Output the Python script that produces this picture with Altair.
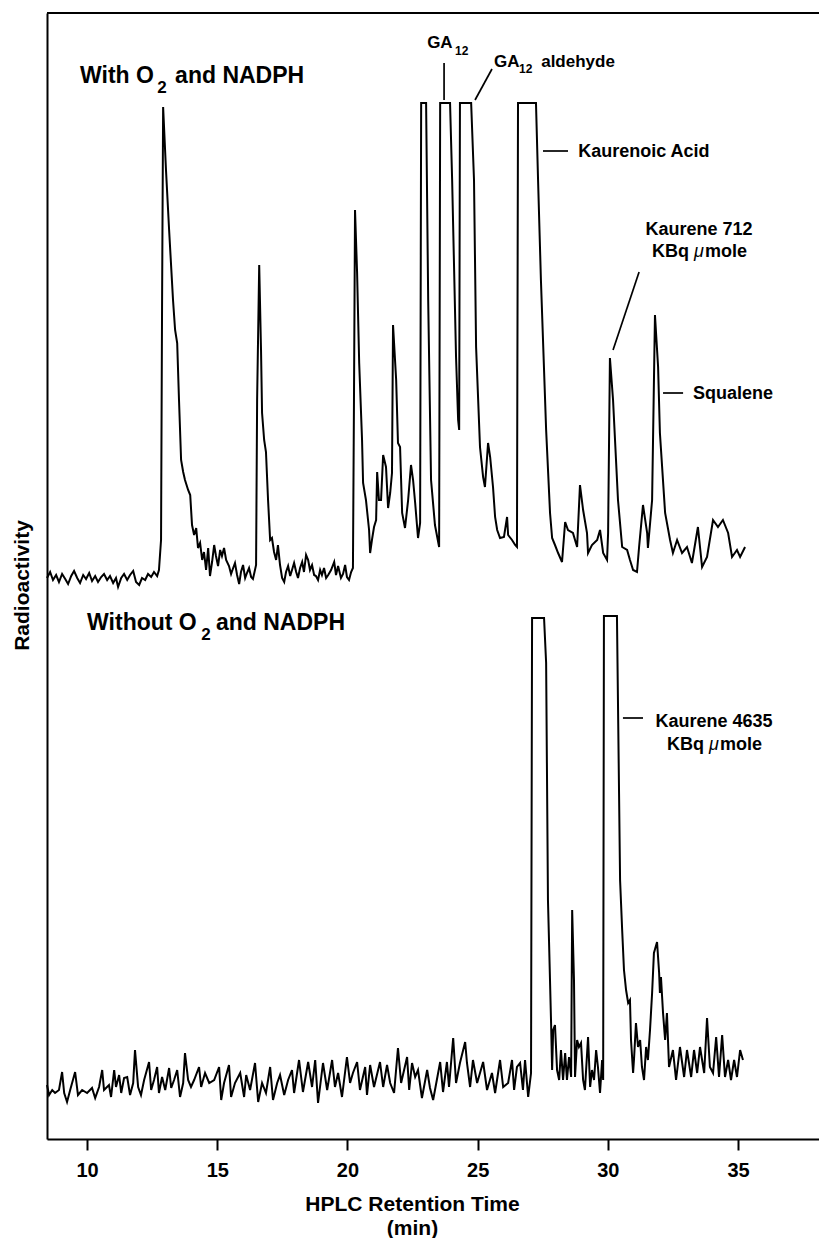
import altair as alt
import pandas as pd

# ---- Trace with O2 and NADPH (retention time, min ; radioactivity, arbitrary units) ----
t_with = [8.46,8.58,8.69,8.81,8.92,9.04,9.16,9.27,9.39,9.50,9.62,9.73,9.85,9.96,10.08,10.19,10.31,10.42,10.54,10.65,
          10.77,10.88,11.00,11.11,11.19,11.31,11.42,11.54,11.65,11.77,11.88,12.00,12.11,12.23,12.34,12.46,12.57,12.69,12.76,12.84,
          12.88,12.92,13.03,13.15,13.30,13.38,13.46,13.53,13.61,13.69,13.76,13.88,13.96,14.03,14.11,14.19,14.26,14.34,14.42,14.49,
          14.57,14.65,14.72,14.80,14.88,14.95,15.03,15.11,15.18,15.26,15.34,15.45,15.53,15.61,15.68,15.76,15.84,15.91,15.99,16.07,
          16.14,16.22,16.30,16.37,16.49,16.53,16.61,16.68,16.72,16.80,16.87,16.95,17.03,17.10,17.18,17.26,17.33,17.41,17.49,17.57,
          17.64,17.72,17.80,17.87,17.95,18.03,18.10,18.18,18.26,18.33,18.41,18.49,18.56,18.64,18.72,18.79,18.87,18.95,19.02,19.10,
          19.18,19.26,19.37,19.49,19.56,19.64,19.75,19.83,19.91,19.98,20.06,20.14,20.21,20.25,20.29,20.37,20.45,20.56,20.60,20.71,
          20.83,20.87,20.94,21.02,21.10,21.14,21.21,21.29,21.37,21.48,21.56,21.64,21.71,21.75,21.87,21.94,22.02,22.10,22.21,22.33,
          22.44,22.52,22.60,22.71,22.79,22.83,23.02,23.10,23.21,23.36,23.52,23.56,23.94,24.02,24.17,24.25,24.29,24.32,24.75,24.86,
          24.94,25.09,25.21,25.28,25.40,25.48,25.59,25.67,25.75,25.86,26.01,26.13,26.17,26.32,26.44,26.51,26.55,27.24,27.32,27.43,
          27.63,27.78,27.86,27.97,28.09,28.24,28.36,28.47,28.66,28.82,28.93,29.05,29.20,29.24,29.39,29.59,29.70,29.82,29.97,30.01,
          30.08,30.20,30.39,30.55,30.74,30.85,30.97,31.12,31.20,31.35,31.51,31.54,31.70,31.81,31.93,32.00,32.20,32.39,32.50,32.66,
          32.85,33.04,33.23,33.46,33.62,33.81,34.04,34.23,34.42,34.62,34.77,34.96,35.08,35.27]
v_with = [561,567,559,564,557,565,560,555,563,568,561,556,564,560,566,558,563,557,562,565,
          559,563,556,561,552,561,565,559,564,568,557,554,561,559,565,562,567,563,569,599,
          839,1032,969,909,839,809,796,739,679,667,659,649,644,614,604,611,591,596,579,587,
          569,591,563,577,594,583,573,589,583,591,579,573,565,571,576,564,555,567,574,561,
          566,571,562,560,574,739,874,789,726,699,687,639,599,601,587,579,594,574,561,557,
          567,573,563,569,576,567,561,571,577,567,584,579,569,574,564,563,559,569,564,571,
          561,564,569,577,564,573,561,565,574,562,559,567,571,739,929,866,776,699,656,639,
          609,586,599,612,619,667,639,639,684,672,631,646,666,814,759,696,692,626,611,639,
          674,659,636,601,616,1036,1036,839,659,614,592,1036,1036,959,782,719,709,1036,1036,959,
          792,692,662,652,696,682,652,622,609,601,602,622,604,599,594,592,1036,1036,959,859,
          709,626,601,594,586,577,617,609,606,592,654,629,606,586,594,599,609,586,579,606,
          781,739,639,592,589,579,569,567,592,634,606,591,639,824,772,706,626,599,586,599,
          586,592,576,612,572,582,619,612,619,606,582,589,582,592]

# ---- Trace without O2 and NADPH ----
t_without = [8.46,8.54,8.66,8.77,8.92,9.04,9.12,9.23,9.35,9.54,9.65,9.81,10.00,10.19,10.31,10.46,10.58,10.65,10.84,10.92,
             11.04,11.11,11.23,11.31,11.42,11.54,11.65,11.77,11.84,11.96,12.07,12.19,12.38,12.46,12.57,12.69,12.76,12.88,13.00,13.15,
             13.23,13.34,13.46,13.57,13.69,13.76,13.88,13.99,14.11,14.30,14.38,14.53,14.69,14.88,15.07,15.15,15.26,15.45,15.53,15.68,
             15.88,16.03,16.11,16.26,16.45,16.57,16.72,16.87,17.03,17.14,17.30,17.41,17.57,17.72,17.87,17.95,18.14,18.29,18.49,18.64,
             18.76,18.87,19.06,19.22,19.41,19.52,19.64,19.79,19.98,20.10,20.21,20.37,20.48,20.68,20.75,20.87,21.02,21.25,21.37,21.52,
             21.64,21.79,21.94,22.06,22.29,22.37,22.48,22.60,22.71,22.86,23.06,23.17,23.29,23.56,23.67,23.82,23.90,24.06,24.17,24.32,
             24.52,24.59,24.71,24.82,24.98,25.09,25.21,25.36,25.55,25.67,25.86,25.98,26.17,26.32,26.40,26.51,26.63,26.74,26.82,26.94,
             27.05,27.09,27.55,27.63,27.70,27.74,27.82,27.86,27.90,27.97,28.05,28.13,28.20,28.28,28.36,28.43,28.51,28.59,28.63,28.70,
             28.74,28.82,28.89,28.97,29.05,29.12,29.24,29.32,29.39,29.47,29.55,29.62,29.70,29.78,29.82,29.85,30.35,30.47,30.55,30.62,
             30.70,30.78,30.85,30.89,30.97,31.01,31.08,31.16,31.24,31.31,31.39,31.47,31.54,31.62,31.70,31.77,31.89,31.97,32.00,32.04,
             32.12,32.20,32.27,32.35,32.50,32.62,32.77,32.93,33.04,33.20,33.31,33.43,33.54,33.70,33.81,33.92,34.04,34.16,34.27,34.39,
             34.50,34.62,34.73,34.85,34.96,35.08,35.19]
v_without = [54,44,49,46,49,67,46,37,49,67,44,49,46,51,41,52,69,49,54,42,
             69,52,64,46,61,62,44,56,89,52,44,59,77,49,59,72,46,62,49,71,
             51,59,69,42,56,86,59,52,59,72,52,66,56,59,72,39,56,74,42,56,
             66,42,64,49,76,37,56,46,72,39,56,64,44,59,69,46,79,47,77,52,
             79,36,76,49,79,52,66,42,82,56,66,77,49,72,44,74,52,77,52,74,
             56,46,91,56,82,49,76,62,69,41,69,51,39,77,47,77,52,101,56,76,
             97,76,52,79,56,66,77,49,66,46,79,52,56,79,49,72,76,49,79,42,
             66,521,521,476,239,199,116,69,109,114,69,59,89,59,86,59,82,62,229,159,
             62,99,92,96,59,49,102,52,69,59,89,72,46,79,59,523,523,259,209,169,
             149,136,139,99,66,82,116,92,99,72,59,92,79,109,146,186,197,166,146,162,
             126,99,126,72,89,59,92,62,89,62,89,66,92,66,121,72,66,102,62,104,
             62,79,59,79,62,89,79]

tick_values = [10, 15, 20, 25, 30, 35]

# ---- Annotations ----
lab_left_text = ["With O", "2", "and NADPH", "Without O", "2", "and NADPH", "GA", "12", "GA", "12",
                 "aldehyde", "Kaurenoic Acid", "Squalene", "KBq", "mole", "KBq", "mole"]
lab_left_t = [9.73, 12.69, 13.38, 10.00, 14.38, 14.95, 23.06, 24.13, 25.63, 26.59, 27.44, 28.86, 33.27,
              31.70, 33.73, 32.27, 34.31]
lab_left_v = [1056, 1046, 1056, 509, 499, 509, 1091, 1084, 1072, 1066, 1072, 982, 740, 882, 882, 389, 389]
lab_left_fs = [23, 17, 23, 23, 17, 23, 17, 12, 17, 12, 17, 18, 18, 18, 18, 18, 18]

mu_t = [33.31, 33.89]
mu_v = [882, 389]

lab_ctr_text = ["Kaurene 712", "Kaurene 4635"]
lab_ctr_t = [33.50, 34.08]
lab_ctr_v = [904, 412]

lead_t1 = [23.71, 24.90, 27.51, 30.20, 32.12, 30.58]
lead_v1 = [1076, 1039, 988, 789, 746, 421]
lead_t2 = [23.71, 25.55, 28.47, 31.20, 32.89, 31.35]
lead_v2 = [1039, 1070, 988, 867, 746, 421]

FONT = "Liberation Sans"
W, H = 772, 1126

rows = []
for i, (t, v) in enumerate(zip(t_with, v_with)):
    rows.append({"t": t, "v": v, "series": "with", "i": i})
for i, (t, v) in enumerate(zip(t_without, v_without)):
    rows.append({"t": t, "v": v, "series": "without", "i": i})
df = pd.DataFrame(rows)

xscale = alt.Scale(domain=[8.46, 38.11], nice=False, zero=False)
yscale = alt.Scale(domain=[0, 1126], nice=False, zero=False)

xaxis = alt.Axis(values=tick_values, grid=False, tickSize=11, tickWidth=2, tickColor="black",
                 domainColor="black", domainWidth=2, labelFont=FONT, labelFontWeight="bold",
                 labelFontSize=20, labelColor="black", labelPadding=10,
                 title=["HPLC Retention Time", "(min)"], titleFont=FONT, titleFontWeight="bold",
                 titleFontSize=21, titleColor="black", titleX=365, titleY=71,
                 titleAlign="center", titleBaseline="alphabetic", titleLineHeight=24)
yaxis = alt.Axis(grid=False, ticks=False, labels=False, domainColor="black", domainWidth=2,
                 title="Radioactivity", titleFont=FONT, titleFontWeight="bold", titleFontSize=21,
                 titleColor="black", titleX=-25, titleY=572, titleAngle=270,
                 titleAlign="center", titleBaseline="middle")

traces = alt.Chart(df).mark_line(color="black", strokeWidth=2, strokeJoin="miter").encode(
    x=alt.X("t:Q", scale=xscale, axis=xaxis),
    y=alt.Y("v:Q", scale=yscale, axis=yaxis),
    detail="series:N",
    order=alt.Order("i:Q"),
)

top_border = alt.Chart(pd.DataFrame({"a": [0]})).mark_rule(color="black", strokeWidth=2).encode(
    x=alt.value(0), x2=alt.value(W), y=alt.value(0)
)

lead_df = pd.DataFrame({"t1": lead_t1, "v1": lead_v1, "t2": lead_t2, "v2": lead_v2})
leaders = alt.Chart(lead_df).mark_rule(color="black", strokeWidth=1.7).encode(
    x=alt.X("t1:Q", scale=xscale), y=alt.Y("v1:Q", scale=yscale), x2="t2:Q", y2="v2:Q"
)

left_df = pd.DataFrame({"t": lab_left_t, "v": lab_left_v, "text": lab_left_text, "fs": lab_left_fs})
left_labels = alt.Chart(left_df).mark_text(align="left", baseline="alphabetic", font=FONT,
                                           fontWeight="bold", color="black").encode(
    x=alt.X("t:Q", scale=xscale), y=alt.Y("v:Q", scale=yscale), text="text:N",
    size=alt.Size("fs:Q", scale=None, legend=None)
)

mu_df = pd.DataFrame({"t": mu_t, "v": mu_v, "text": ["\u03bc", "\u03bc"]})
mu_labels = alt.Chart(mu_df).mark_text(align="left", baseline="alphabetic", font=FONT,
                                       fontStyle="italic", fontSize=18, color="black").encode(
    x=alt.X("t:Q", scale=xscale), y=alt.Y("v:Q", scale=yscale), text="text:N"
)

ctr_df = pd.DataFrame({"t": lab_ctr_t, "v": lab_ctr_v, "text": lab_ctr_text})
ctr_labels = alt.Chart(ctr_df).mark_text(align="center", baseline="alphabetic", font=FONT,
                                         fontWeight="bold", color="black", fontSize=18).encode(
    x=alt.X("t:Q", scale=xscale), y=alt.Y("v:Q", scale=yscale), text="text:N"
)

chart = alt.layer(traces, top_border, leaders, left_labels, mu_labels, ctr_labels).properties(
    width=W, height=H,
    autosize=alt.AutoSizeParams(type="none"),
    padding={"left": 39, "top": 5, "right": 0, "bottom": 99},
).configure_view(stroke=None).configure(background="white")

chart.save("out.html", embed_options={"renderer": "svg", "actions": False})
